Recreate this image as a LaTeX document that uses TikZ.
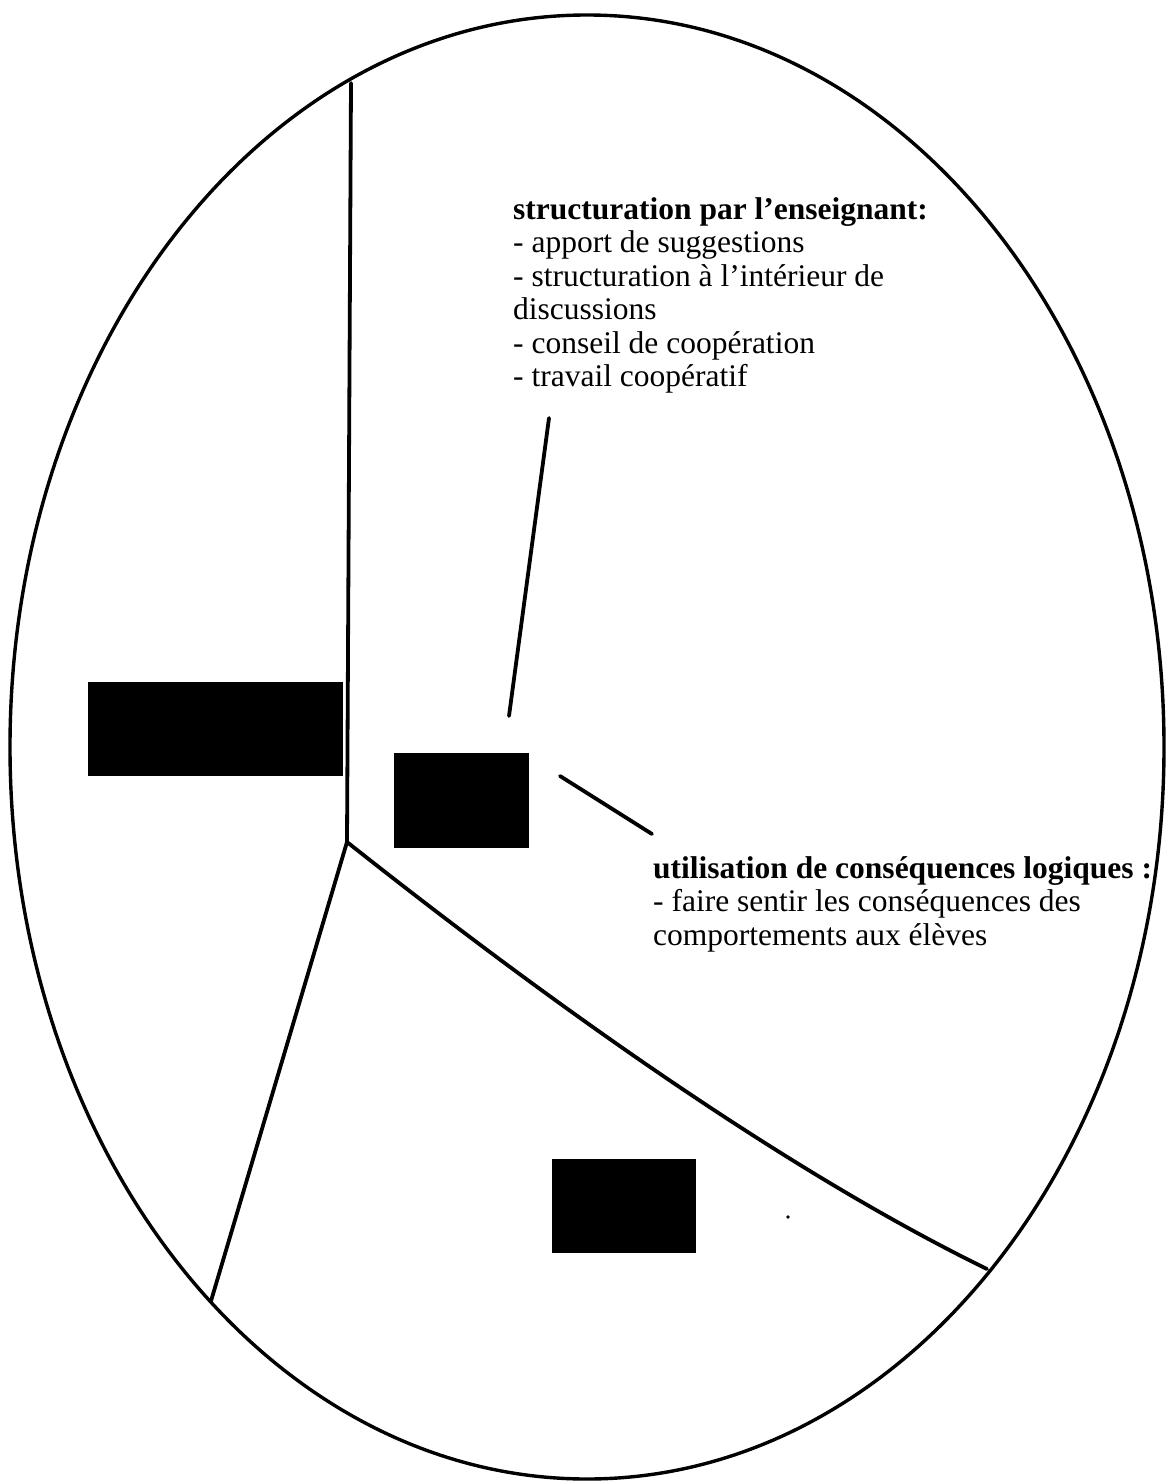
\documentclass[tikz,border=0pt]{standalone}
\usepackage{fontspec}
\setmainfont{Liberation Serif}
\begin{document}
\begin{tikzpicture}[x=1pt,y=-1pt,
  outline/.style={line width=3.4pt,black},
  divider/.style={line width=3.8pt,black,line cap=round},
  leader/.style={line width=3.8pt,black,line cap=round},
  blackbox/.style={fill=black,draw=none},
  label/.style={anchor=north west,inner sep=0pt,align=left,font=\fontsize{31.5}{33.5}\selectfont}]
\useasboundingbox (0,0) rectangle (1167,1482);
\fill[white] (0,0) rectangle (1167,1482);
% outer ellipse
\draw[outline] (587,747) ellipse [x radius=577, y radius=732];
% dividers
\coordinate (top) at (351,83);
\coordinate (hub) at (347,842);
\coordinate (lr) at (987,1269);
\coordinate (ll) at (211,1301);
\draw[divider] (top) -- (hub);
\draw[divider] (hub) .. controls (540,995) and (780,1168) .. (lr);
\draw[divider] (hub) -- (ll);
% black boxes
\fill[blackbox] (88,682) rectangle (343,776) coordinate (boxleft);
\fill[blackbox] (394,753) rectangle (529,848) coordinate (boxmid);
\fill[blackbox] (552,1159) rectangle (696,1253) coordinate (boxbottom);
\fill (788,1217) circle (1.8pt);
% texts
\node[label] (struct) at (513,197) {\textbf{structuration par l’enseignant:}\\- apport de suggestions\\- structuration à l’intérieur de\\discussions\\- conseil de coopération\\- travail coopératif};
\node[label] (conseq) at (653,856) {\textbf{utilisation de conséquences logiques :}\\- faire sentir les conséquences des\\comportements aux élèves};
% leaders
\coordinate (l1a) at (549,418);
\coordinate (l1b) at (509,716);
\coordinate (l2a) at (560,776);
\coordinate (l2b) at (652,834);
\draw[leader] (l1a) -- (l1b);
\draw[leader] (l2a) -- (l2b);
\end{tikzpicture}
\end{document}
